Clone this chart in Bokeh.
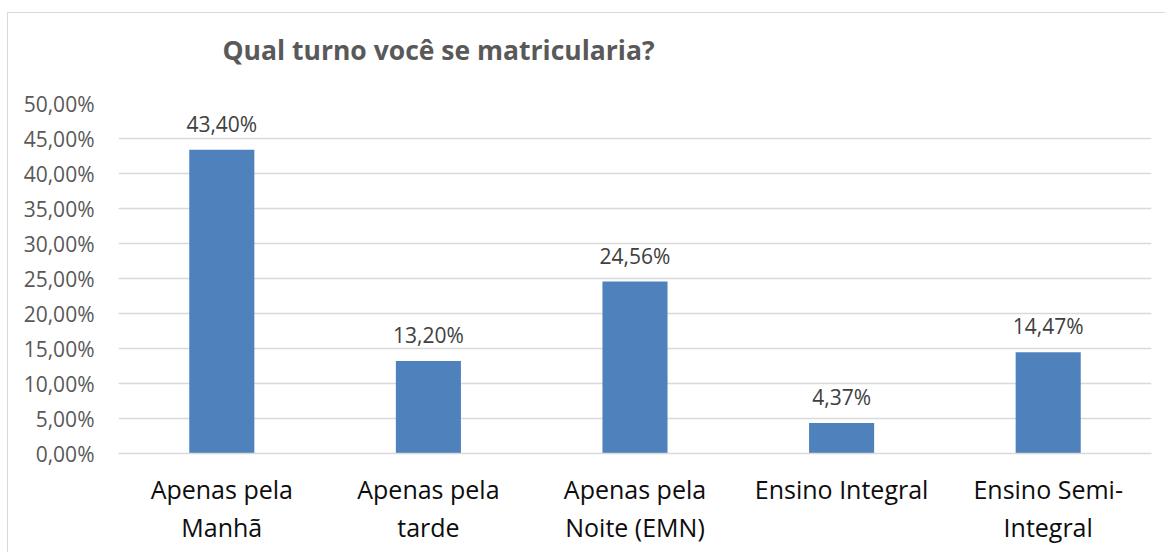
from bokeh.plotting import figure
from bokeh.models import (Range1d, FactorRange, FixedTicker, ColumnDataSource, CategoricalAxis,
                          CustomJSTickFormatter, Title)
from bokeh.core.properties import value
from bokeh.embed import file_html
from bokeh.resources import INLINE

categories = ["Apenas pela Manhã", "Apenas pela tarde", "Apenas pela Noite (EMN)",
              "Ensino Integral", "Ensino Semi-Integral"]
label_line1 = ["Apenas pela", "Apenas pela", "Apenas pela", "Ensino Integral", "Ensino Semi-"]
label_line2 = ["Manhã", "tarde", "Noite (EMN)", "", "Integral"]
values = [43.40, 13.20, 24.56, 4.37, 14.47]
y_ticks = [0, 5, 10, 15, 20, 25, 30, 35, 40, 45, 50]
y_tick_labels = ["0,00%", "5,00%", "10,00%", "15,00%", "20,00%", "25,00%",
                 "30,00%", "35,00%", "40,00%", "45,00%", "50,00%"]
title_text = "Qual turno você se matricularia?"

FONT = "Open Sans"

data_labels = [f"{v:.2f}".replace(".", ",") + "%" for v in values]
src = ColumnDataSource(dict(cat=categories, val=values, lab=data_labels))

p = figure(x_range=FactorRange(*categories, range_padding=0), y_range=Range1d(0, 50),
           width=1158, height=540, output_backend="svg", toolbar_location=None,
           min_border_left=110, min_border_right=15, min_border_top=90, min_border_bottom=100,
           title=title_text)
p.margin = (12, 0, 0, 7)
p.styles = {"border-top": "1.5px solid #d9d9d9", "border-left": "1.5px solid #d9d9d9"}
p.outline_line_color = None
p.background_fill_color = "white"
p.border_fill_color = "white"

p.title.text_font = FONT
p.title.text_font_size = "26.5px"
p.title.text_font_style = "bold"
p.title.text_color = "#595959"
p.title.align = "left"
p.title.offset = 104
p.title.standoff = 30

# thin spacer between the title and the plot area
spacer = Title(text=" ", text_font_size="1px", standoff=18, text_color="white")
p.add_layout(spacer, "above")

p.vbar(x="cat", top="val", width=0.315, source=src, fill_color="#4F81BD", line_color=None)
p.text(x="cat", y="val", text="lab", source=src, text_align="center",
       text_baseline="alphabetic", y_offset=-26, text_font=value(FONT),
       text_font_size="21px", text_color="#404040")

p.xgrid.grid_line_color = None
p.ygrid.grid_line_color = "#d9d9d9"
p.ygrid.grid_line_width = 1.5

p.yaxis.ticker = FixedTicker(ticks=y_ticks)
p.yaxis.major_label_overrides = {t: l for t, l in zip(y_ticks, y_tick_labels)}
p.yaxis.axis_line_color = None
p.yaxis.major_tick_line_color = None
p.yaxis.minor_tick_line_color = None
p.yaxis.major_label_text_font = FONT
p.yaxis.major_label_text_font_size = "21px"
p.yaxis.major_label_text_color = "#595959"
p.yaxis.major_label_standoff = 18

fmt_code = "const i = cats.indexOf(tick); return i >= 0 ? labels[i] : tick;"

xa = p.xaxis[0]
xa.formatter = CustomJSTickFormatter(args=dict(cats=categories, labels=label_line1), code=fmt_code)
xa.axis_line_color = "#d9d9d9"
xa.axis_line_width = 1.5
xa.major_tick_line_color = None
xa.major_label_text_font = FONT
xa.major_label_text_font_size = "25px"
xa.major_label_text_color = "#0d0d0d"
xa.major_label_standoff = 12

xa2 = CategoricalAxis(formatter=CustomJSTickFormatter(args=dict(cats=categories, labels=label_line2),
                                                      code=fmt_code),
                      axis_line_color=None, major_tick_line_color=None,
                      major_label_text_font=FONT, major_label_text_font_size="25px",
                      major_label_text_color="#0d0d0d", major_label_standoff=-5)
p.add_layout(xa2, "below")

open("out.html", "w").write(file_html(p, INLINE))
